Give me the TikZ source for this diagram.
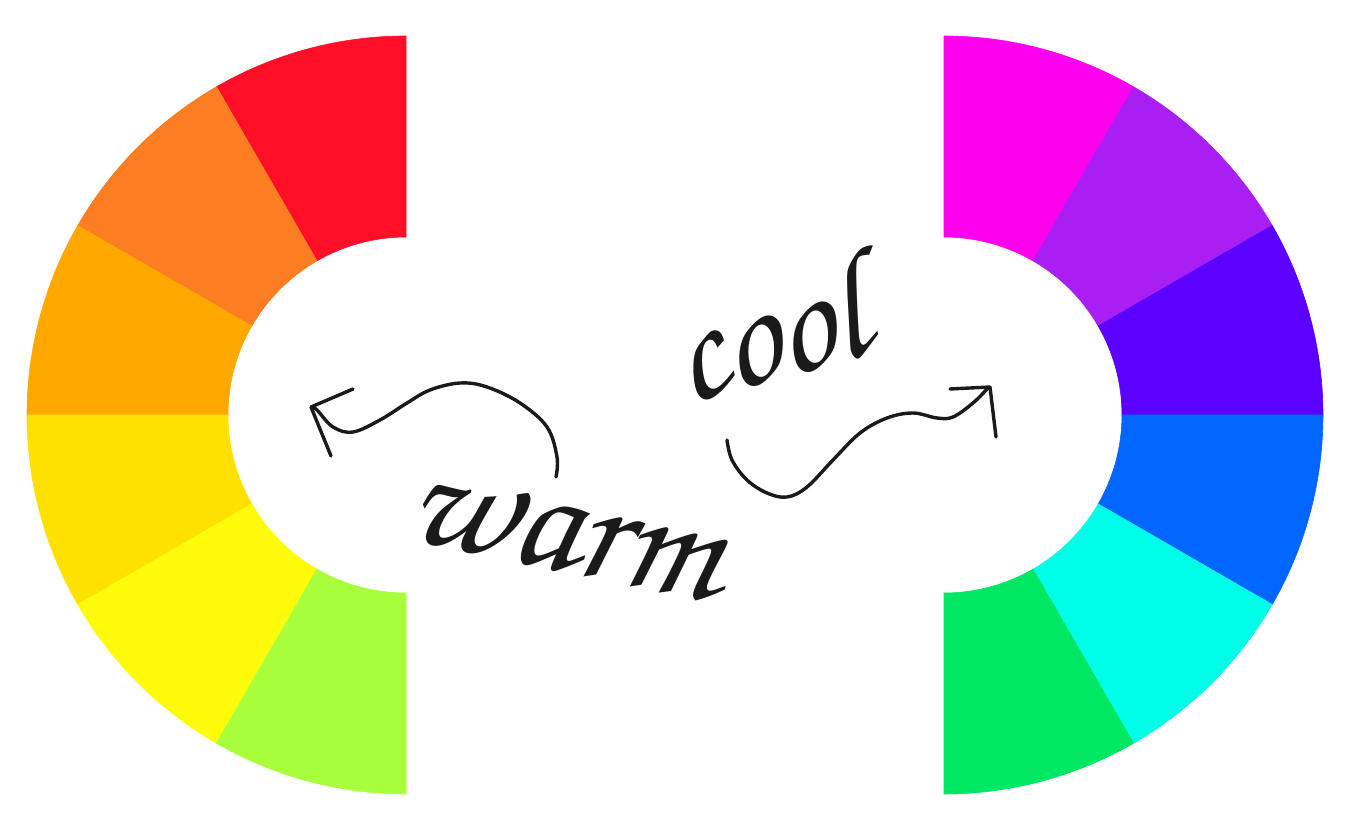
\documentclass[tikz,border=0pt]{standalone}
\usepackage[T1,TU]{fontenc}
\usetikzlibrary{calc}
\definecolor{wA}{HTML}{FF0E28}
\definecolor{wB}{HTML}{FD7D22}
\definecolor{wC}{HTML}{FFA800}
\definecolor{wD}{HTML}{FFE100}
\definecolor{wE}{HTML}{FFFB0A}
\definecolor{wF}{HTML}{A9FF3B}
\definecolor{cA}{HTML}{FF00EE}
\definecolor{cB}{HTML}{A91FF3}
\definecolor{cC}{HTML}{5B00FF}
\definecolor{cD}{HTML}{0066FF}
\definecolor{cE}{HTML}{00FFE8}
\definecolor{cF}{HTML}{00E763}
\definecolor{ink}{HTML}{1A1A1A}
\newcommand\ringseg[4]{%
  \fill[#4, draw=#4, line width=0.3pt] ($(#1)+(#2:379)$) arc[start angle=#2, end angle=#3, radius=379]
    -- ($(#1)+(#3:178)$) arc[start angle=#3, end angle=#2, radius=178] -- cycle;}
\newcommand\hand{\fontencoding{T1}\fontfamily{pzc}\fontseries{mb}\fontshape{it}\selectfont}
\tikzset{
  inkline/.style={draw=ink, line width=1.7pt, line cap=round, line join=round},
  word/.style={inner sep=0pt, text=ink, anchor=base}
}
\begin{document}
\begin{tikzpicture}[x=0.5pt,y=0.5pt]
\useasboundingbox (0,0) rectangle (1351,821);
\coordinate (L) at (406,406);
\coordinate (R) at (944,406);
\foreach \a/\c in {90/wA,120/wB,150/wC,180/wD,210/wE,240/wF}{
  \pgfmathtruncatemacro\b{\a+30}
  \ringseg{L}{\a}{\b}{\c}
}
\foreach \a/\c in {60/cA,30/cB,0/cC,-30/cD,-60/cE,-90/cF}{
  \pgfmathtruncatemacro\b{\a+30}
  \ringseg{R}{\a}{\b}{\c}
}
% words
\node[word, rotate=-12, font=\hand\fontsize{78}{86}\selectfont] (warm) at (557,251) {warm};
\node[word, rotate=15, yscale=1.1, font=\hand\fontsize{70}{80}\selectfont] (cool) at (781,443) {cool};
% left arrow
\coordinate (ltip) at (311,414);
\draw[inkline] plot[smooth, tension=0.6] coordinates {(556,344) (557,364) (547,394) (520,418) (487,434) (460,438) (430,431) (407,418) (380,401) (353,389) (333,394) (317,411) (312,414)};
\coordinate (lh1) at (353,432);
\coordinate (lh2) at (331,365);
\draw[inkline] (lh1) -- (ltip) -- (lh2);
% right arrow
\coordinate (rtip) at (990,434);
\draw[inkline] plot[smooth, tension=0.6] coordinates {(727,381) (732,361) (747,341) (767,328) (787,324) (807,334) (833,361) (860,388) (887,403) (913,408) (937,403) (953,404) (973,418) (988,433)};
\coordinate (rh1) at (950,432);
\coordinate (rh2) at (996,384);
\draw[inkline] (rh1) -- (rtip) -- (rh2);
\end{tikzpicture}
\end{document}
